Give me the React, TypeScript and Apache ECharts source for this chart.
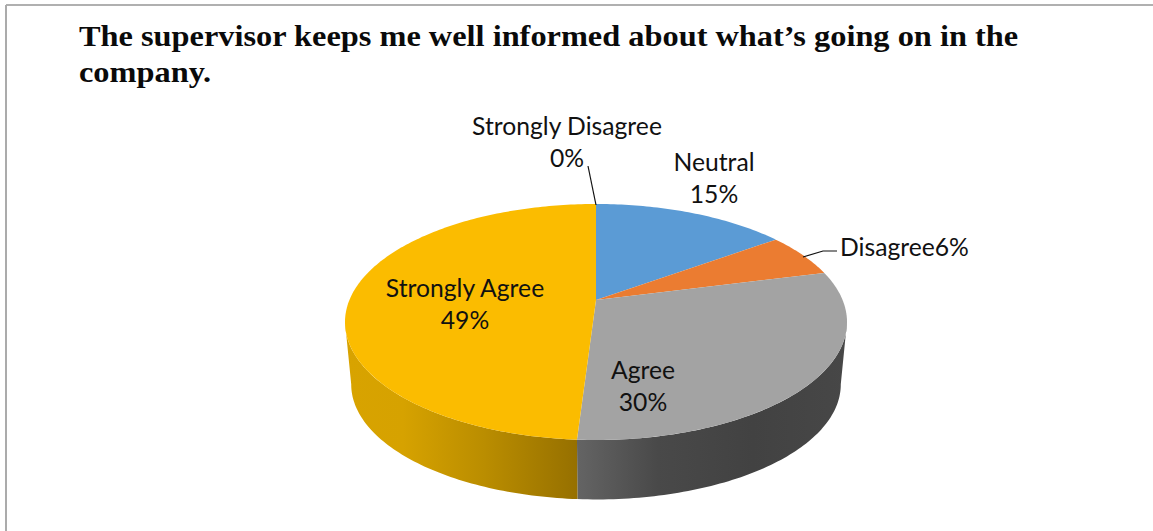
import React, { useEffect, useRef } from "react";
import * as echarts from "echarts";

const titleLines = [
  "The supervisor keeps me well informed about what’s going on in the",
  "company.",
];
const categories = ["Strongly Disagree", "Neutral", "Disagree", "Agree", "Strongly Agree"];
const shares = [0, 15, 6, 30, 49];
const faceColors = ["#A5A5A5", "#5B9BD5", "#EB7C31", "#A3A3A3", "#FBBC00"];
const wallStops: [number, string][][] = [
  [],
  [],
  [],
  [[0, "#646464"], [0.3, "#494949"], [0.65, "#424242"], [1, "#474747"]],
  [[0, "#D8A300"], [0.25, "#D6A200"], [0.6, "#BA8D00"], [1, "#967000"]],
];

// Perspective of the disc: axis radii, foreshortening and the centre on screen.
const top = { cx: 596, cy: 300, a: 246.6, b: 113.9 };
const base = { cx: 596, cy: 363, a: 240.5, b: 111 };
const tilt = 0.1864;
const wallFrom = 100.7;
const wallTo = 259.3;

type Disc = typeof top;

function project(d: Disc, deg: number): [number, number] {
  const t = (deg * Math.PI) / 180;
  const w = 1 + tilt * Math.cos(t);
  return [d.cx + (d.a * Math.sin(t)) / w, d.cy - (d.b * Math.cos(t)) / w];
}

function arc(d: Disc, from: number, to: number): [number, number][] {
  const n = Math.max(2, Math.ceil(Math.abs(to - from)));
  const pts: [number, number][] = [];
  for (let i = 0; i <= n; i++) pts.push(project(d, from + ((to - from) * i) / n));
  return pts;
}

const total = shares.reduce((s, v) => s + v, 0);
const spans = shares.map((v, i) => {
  const before = shares.slice(0, i).reduce((s, x) => s + x, 0);
  return [(before / total) * 360, ((before + v) / total) * 360];
});

const LABEL_FONT = { fontFamily: "Lato", fontSize: 24.7, lineHeight: 32, fill: "#111111" };

function pieLabel(i: number) {
  return `${categories[i]}\n${shares[i]}%`;
}

export default function App() {
  const ref = useRef<HTMLDivElement>(null);

  useEffect(() => {
    document.body.style.margin = "0";
    document.body.style.background = "#ffffff";
    const chart = echarts.init(ref.current!, undefined, { renderer: "svg" });
    chart.setOption({
      animation: false,
      backgroundColor: "#ffffff",
      series: [
        {
          type: "custom",
          coordinateSystem: "none",
          silent: true,
          z: 1,
          data: spans,
          renderItem(_p: any, api: any) {
            const i = _p.dataIndex;
            const from = Math.max(api.value(0), wallFrom);
            const to = Math.min(api.value(1), wallTo);
            if (to <= from || !wallStops[i].length) return { type: "group", children: [] };
            return {
              type: "polygon",
              shape: { points: [...arc(top, from, to), ...arc(base, to, from)] },
              style: {
                fill: {
                  type: "linear",
                  x: 0, y: 0, x2: 1, y2: 0,
                  colorStops: wallStops[i].map(([offset, color]) => ({ offset, color })),
                },
              },
            };
          },
        },
        {
          type: "custom",
          coordinateSystem: "none",
          silent: true,
          z: 2,
          data: spans,
          renderItem(_p: any, api: any) {
            const i = _p.dataIndex;
            const from = api.value(0);
            const to = api.value(1);
            if (to <= from) return { type: "group", children: [] };
            return {
              type: "polygon",
              shape: { points: [[top.cx, top.cy], ...arc(top, from, to)] },
              style: { fill: faceColors[i] },
            };
          },
        },
      ],
      graphic: [
        { type: "line", silent: true, shape: { x1: 6, y1: 5, x2: 1153, y2: 5 }, style: { stroke: "#969696", lineWidth: 1.5 } },
        { type: "line", silent: true, shape: { x1: 6, y1: 5, x2: 6, y2: 531 }, style: { stroke: "#ababab", lineWidth: 2 } },
        {
          type: "text",
          z: 5,
          x: 79,
          y: 18,
          scaleX: 1.079,
          style: {
            text: titleLines.join("\n"),
            fontFamily: "Liberation Serif",
            fontWeight: "bold",
            fontSize: 30,
            lineHeight: 36,
            fill: "#0a0a0a",
          },
        },
        { type: "polyline", silent: true, z: 5, shape: { points: [[588, 166], [596, 205]] }, style: { stroke: "#111111", lineWidth: 1.2, fill: "none" } },
        { type: "polyline", silent: true, z: 5, shape: { points: [[803, 257], [823, 251], [837, 251]] }, style: { stroke: "#111111", lineWidth: 1.2, fill: "none" } },
        { type: "text", z: 5, x: 567, y: 109, style: { ...LABEL_FONT, text: pieLabel(0), align: "center" } },
        { type: "text", z: 5, x: 714, y: 145, style: { ...LABEL_FONT, text: pieLabel(1), align: "center" } },
        { type: "text", z: 5, x: 840, y: 230, style: { ...LABEL_FONT, text: `${categories[2]}${shares[2]}%`, align: "left" } },
        { type: "text", z: 5, x: 643, y: 353, style: { ...LABEL_FONT, text: pieLabel(3), align: "center" } },
        { type: "text", z: 5, x: 465, y: 271, style: { ...LABEL_FONT, text: pieLabel(4), align: "center" } },
      ],
    });
    return () => chart.dispose();
  }, []);

  return <div ref={ref} style={{ position: "absolute", left: 0, top: 0, width: 1153, height: 531 }} />;
}
